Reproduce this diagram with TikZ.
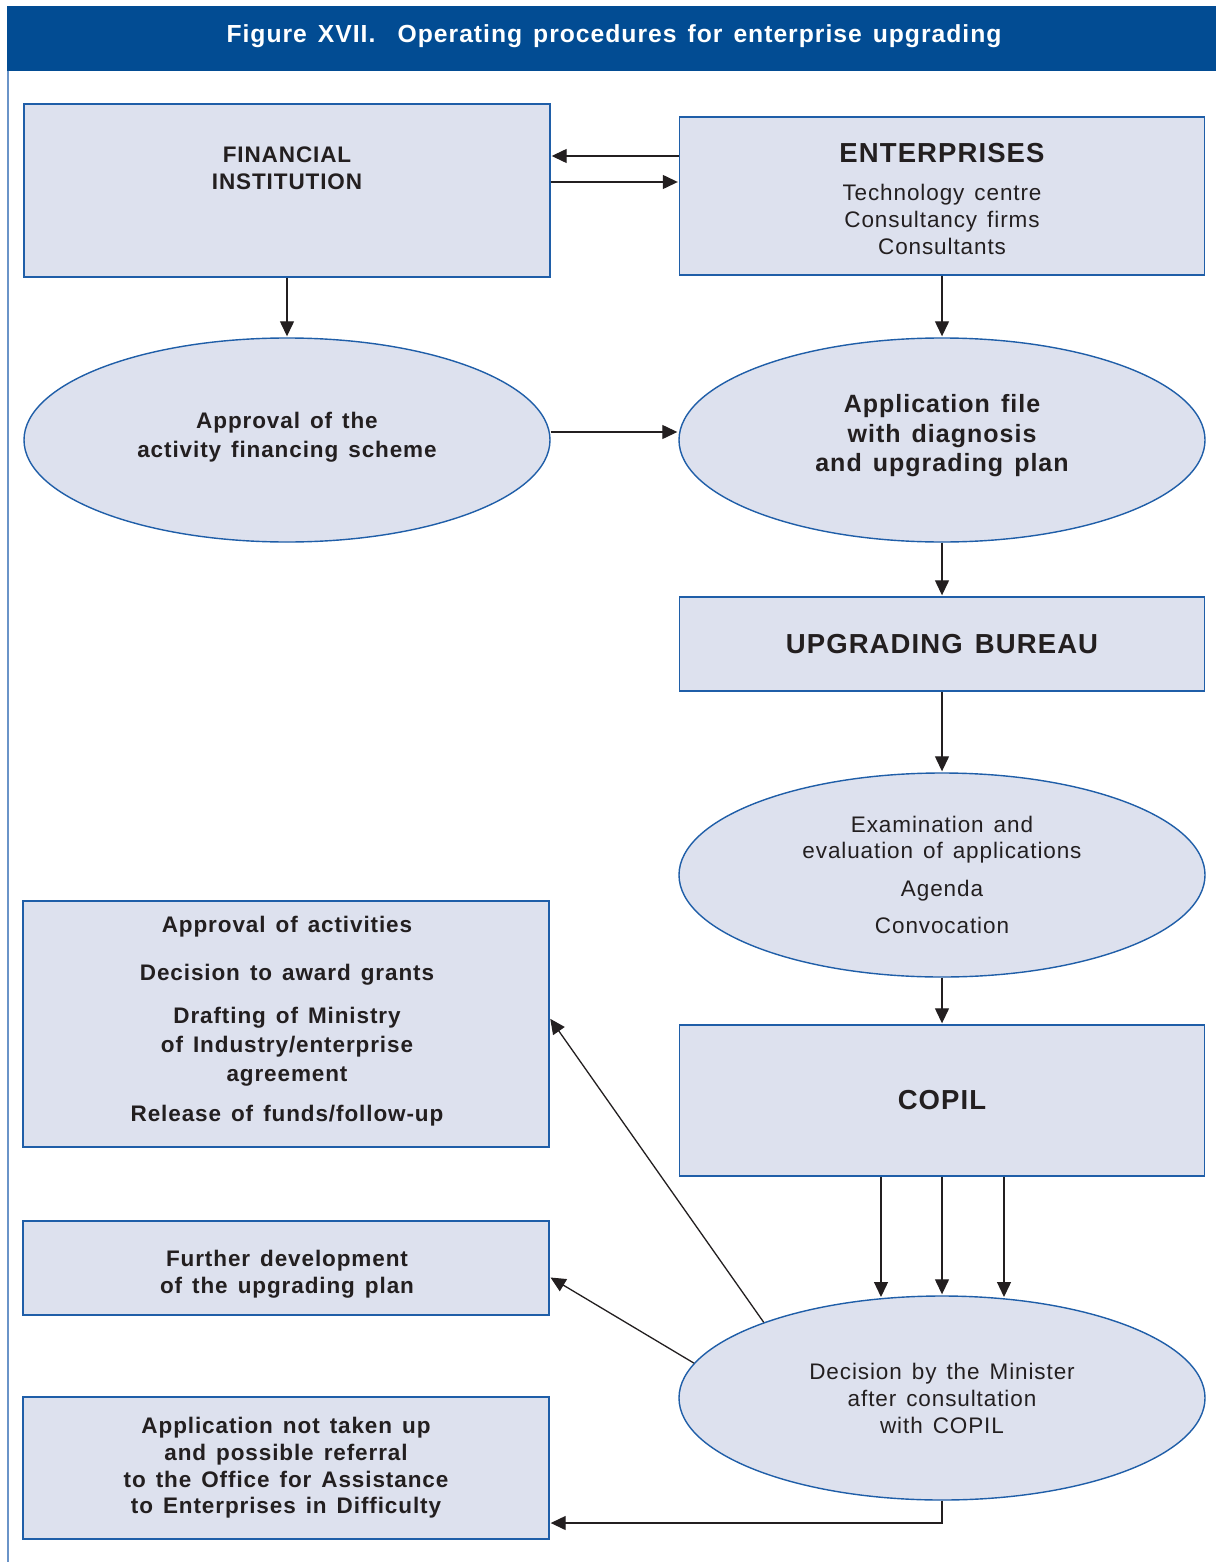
\documentclass[tikz,border=0pt]{standalone}
\usepackage{fontspec}
\setmainfont{Liberation Sans}[WordSpace=1.4, LetterSpace=4]
\usetikzlibrary{shapes.geometric,arrows.meta}
\definecolor{barblue}{HTML}{024C93}
\definecolor{edgeblue}{HTML}{1F5EA8}
\definecolor{fillblue}{HTML}{DDE1EE}
\definecolor{sideblue}{HTML}{6A94C8}
\definecolor{ink}{HTML}{231F20}
\newcommand{\fsz}[2]{\fontsize{#1}{#2}\selectfont}
\tikzset{
  box/.style={draw=edgeblue, fill=fillblue, line width=1.4pt, inner sep=0pt,
    rectangle, align=center, text=ink},
  oval/.style={draw=edgeblue, fill=fillblue, line width=1.4pt, inner sep=0pt,
    ellipse, minimum width=526pt, minimum height=204pt, align=center, text=ink},
  lbl/.style={align=center, text=ink, inner sep=0pt},
  arr/.style={draw=ink, line width=1.3pt,
    -{Triangle[length=15pt,width=14pt]}, shorten >=1pt},
}
\begin{document}
\begin{tikzpicture}[x=1pt,y=-1pt]
\useasboundingbox (0,0) rectangle (1216,1562);
\fill[white] (0,0) rectangle (1216,1562);

% title bar and side rule
\fill[barblue] (7,6) rectangle (1216,71);
\node[text=white, font=\bfseries\fsz{24.7}{28}] (title) at (614,36)
  {Figure XVII.\hspace{0.9em}Operating procedures for enterprise upgrading};
\draw[sideblue, line width=2pt] (8,71) -- (8,1562);

% upper row
\node[box, minimum width=526pt, minimum height=173pt] (fi) at (287,190.5) {};
\node[lbl, font=\bfseries\fsz{22.5}{27}] (fitext) at (287,168) {FINANCIAL\\INSTITUTION};

\node[box, minimum width=525pt, minimum height=158pt] (ent) at (942,196) {};
\node[lbl, font=\bfseries\fsz{27.5}{30}] (enthead) at (942,153) {ENTERPRISES};
\node[lbl, font=\fsz{22.5}{27}] (entlist) at (942,219)
  {Technology centre\\Consultancy firms\\Consultants};

\node[oval] (ell1) at (287,440) {};
\node[lbl, font=\bfseries\fsz{22.5}{29}] (ell1text) at (287,437)
  {Approval of the\\activity financing scheme};
\node[oval] (ell2) at (942,440) {};
\node[lbl, font=\bfseries\fsz{25}{29.5}] (ell2text) at (942,436)
  {Application file\\with diagnosis\\and upgrading plan};

% right column
\node[box, minimum width=525pt, minimum height=94pt, font=\bfseries\fsz{27.5}{30}] (ub)
  at (942,644) {UPGRADING BUREAU};
\node[oval, font=\fsz{22.5}{26}] (ell3) at (942,875)
  {Examination and\\evaluation of applications\\[12pt]Agenda\\[11pt]Convocation};
\node[box, minimum width=525pt, minimum height=151pt, font=\bfseries\fsz{27.5}{30}] (copil)
  at (942,1100.5) {COPIL};
\node[oval, font=\fsz{22.5}{27}] (ell4) at (942,1398)
  {Decision by the Minister\\after consultation\\with COPIL};

% left column outcomes
\node[box, minimum width=526pt, minimum height=246pt] (la) at (286,1024) {};
\node[lbl, font=\bfseries\fsz{22.5}{29}] (latext) at (287,1021)
  {Approval of activities\\[19pt]Decision to award grants\\[14pt]Drafting of Ministry\\
   of Industry/enterprise\\agreement\\[11pt]Release of funds/follow-up};
\node[box, minimum width=526pt, minimum height=94pt] (fd) at (286,1268) {};
\node[lbl, font=\bfseries\fsz{22.5}{27}] (fdtext) at (287,1274)
  {Further development\\of the upgrading plan};
\node[box, minimum width=526pt, minimum height=142pt, font=\bfseries\fsz{22.5}{26.7}] (ant)
  at (286,1468)
  {Application not taken up\\and possible referral\\to the Office for Assistance\\to Enterprises in Difficulty};

% connectors
\draw[arr] (ent.west |- 0,156) -- (fi.east |- 0,156);
\draw[arr] (fi.east |- 0,182) -- (ent.west |- 0,182);
\draw[arr] (fi.south) -- (ell1.north);
\draw[arr] (ent.south) -- (ell2.north);
\draw[arr] (ell1.east |- 0,432) -- (ell2.west |- 0,432);
\draw[arr] (ell2.south) -- (ub.north);
\draw[arr] (ub.south) -- (ell3.north);
\draw[arr] (ell3.south) -- (copil.north);
\draw[arr] (copil.south -| 881,0) -- (881,1298);
\draw[arr] (copil.south) -- (ell4.north);
\draw[arr] (copil.south -| 1004,0) -- (1004,1298);
\draw[arr] (ell4.157) -- (la.east |- 0,1018);
\draw[arr] (ell4.172) -- (fd.east |- 0,1277);
\draw[arr] (ell4.south) |- (ant.east |- 0,1523);
\end{tikzpicture}
\end{document}
